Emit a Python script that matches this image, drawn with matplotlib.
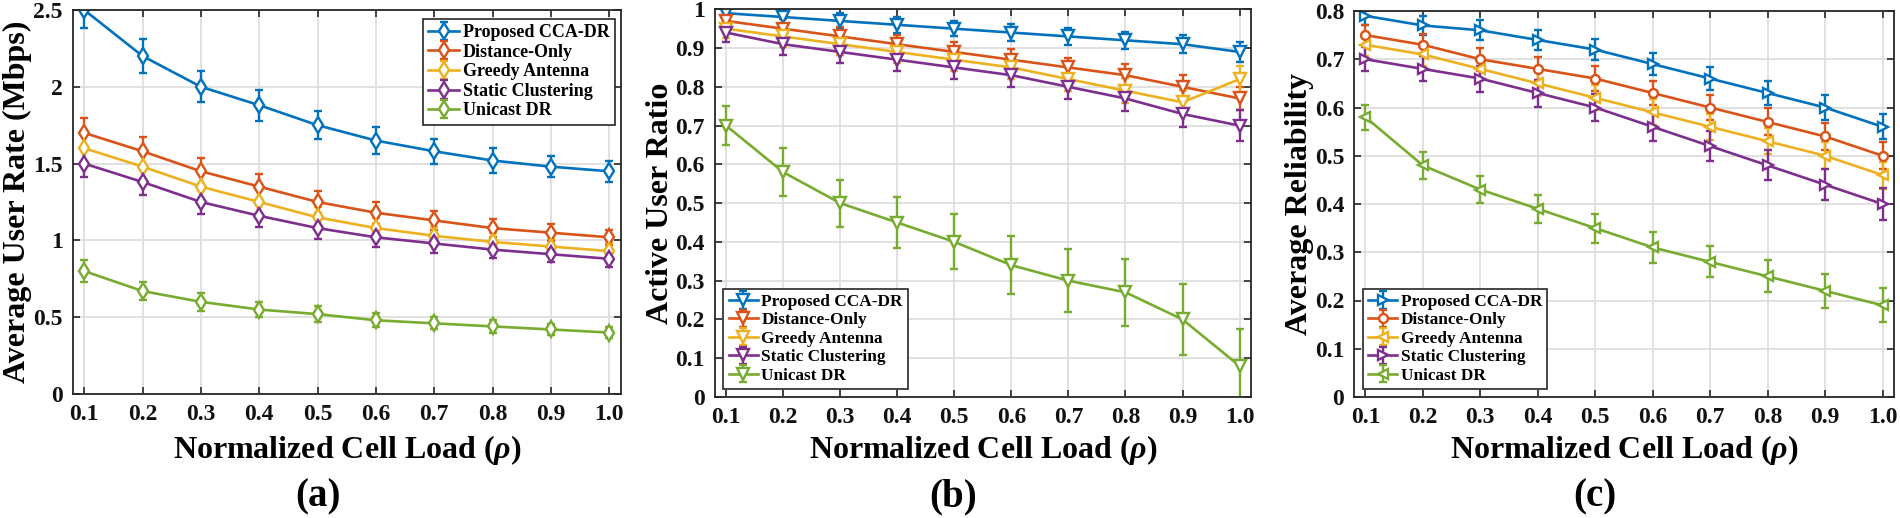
import numpy as np
import matplotlib
matplotlib.use("Agg")
import matplotlib.pyplot as plt

plt.rcParams['font.family'] = ['Liberation Serif', 'DejaVu Serif']
plt.rcParams['font.weight'] = 'bold'
plt.rcParams['mathtext.fontset'] = 'custom'
plt.rcParams['mathtext.rm'] = 'Liberation Serif:bold'
plt.rcParams['mathtext.it'] = 'Liberation Serif:italic:bold'

load = [0.1, 0.2, 0.3, 0.4, 0.5, 0.6, 0.7, 0.8, 0.9, 1.0]
xtick_labels = ["0.1", "0.2", "0.3", "0.4", "0.5", "0.6", "0.7", "0.8", "0.9", "1.0"]
methods = ["Proposed CCA-DR", "Distance-Only", "Greedy Antenna", "Static Clustering", "Unicast DR"]
colors = ["#0072BD", "#D95319", "#EDB120", "#7E2F8E", "#77AC30"]

# (a) Average user rate (Mbps)
rate_proposed = [2.50, 2.20, 2.00, 1.88, 1.75, 1.65, 1.58, 1.52, 1.48, 1.45]
rate_distance = [1.70, 1.58, 1.45, 1.35, 1.25, 1.18, 1.13, 1.08, 1.05, 1.02]
rate_greedy = [1.60, 1.48, 1.35, 1.25, 1.15, 1.08, 1.03, 0.99, 0.96, 0.93]
rate_static = [1.50, 1.38, 1.25, 1.16, 1.08, 1.02, 0.98, 0.94, 0.91, 0.88]
rate_unicast = [0.80, 0.67, 0.60, 0.55, 0.52, 0.48, 0.46, 0.44, 0.42, 0.40]
rate_err_proposed = [0.12, 0.11, 0.10, 0.10, 0.09, 0.09, 0.08, 0.08, 0.07, 0.07]
rate_err_distance = [0.10, 0.095, 0.085, 0.08, 0.07, 0.07, 0.06, 0.06, 0.055, 0.05]
rate_err_greedy = [0.095, 0.09, 0.08, 0.075, 0.07, 0.065, 0.06, 0.055, 0.05, 0.05]
rate_err_static = [0.09, 0.082, 0.078, 0.07, 0.07, 0.06, 0.06, 0.055, 0.05, 0.05]
rate_err_unicast = [0.07, 0.06, 0.06, 0.05, 0.05, 0.045, 0.04, 0.04, 0.035, 0.035]

# (b) Active user ratio
ratio_proposed = [0.99, 0.98, 0.97, 0.96, 0.95, 0.94, 0.93, 0.92, 0.91, 0.89]
ratio_distance = [0.97, 0.95, 0.93, 0.91, 0.89, 0.87, 0.85, 0.83, 0.80, 0.77]
ratio_greedy = [0.95, 0.93, 0.91, 0.89, 0.87, 0.85, 0.82, 0.79, 0.76, 0.82]
ratio_static = [0.94, 0.91, 0.89, 0.87, 0.85, 0.83, 0.80, 0.77, 0.73, 0.70]
ratio_unicast = [0.70, 0.58, 0.50, 0.45, 0.40, 0.34, 0.30, 0.27, 0.20, 0.08]
ratio_err_proposed = [0.02, 0.02, 0.02, 0.02, 0.02, 0.022, 0.022, 0.022, 0.024, 0.025]
ratio_err_distance = [0.022, 0.024, 0.025, 0.025, 0.026, 0.027, 0.025, 0.029, 0.03, 0.029]
ratio_err_greedy = [0.025, 0.026, 0.027, 0.028, 0.03, 0.03, 0.031, 0.032, 0.033, 0.035]
ratio_err_static = [0.025, 0.027, 0.028, 0.029, 0.03, 0.03, 0.031, 0.033, 0.034, 0.04]
ratio_err_unicast = [0.05, 0.062, 0.061, 0.065, 0.071, 0.074, 0.081, 0.086, 0.091, 0.096]

# (c) Average reliability
rel_proposed = [0.79, 0.77, 0.76, 0.74, 0.72, 0.69, 0.66, 0.63, 0.60, 0.56]
rel_distance = [0.75, 0.73, 0.70, 0.68, 0.66, 0.63, 0.60, 0.57, 0.54, 0.50]
rel_greedy = [0.73, 0.71, 0.68, 0.65, 0.62, 0.59, 0.56, 0.53, 0.50, 0.46]
rel_static = [0.70, 0.68, 0.66, 0.63, 0.60, 0.56, 0.52, 0.48, 0.44, 0.40]
rel_unicast = [0.58, 0.48, 0.43, 0.39, 0.35, 0.31, 0.28, 0.25, 0.22, 0.19]
rel_err_proposed = [0.02, 0.02, 0.021, 0.021, 0.022, 0.023, 0.024, 0.025, 0.026, 0.026]
rel_err_distance = [0.022, 0.023, 0.024, 0.024, 0.025, 0.025, 0.025, 0.028, 0.028, 0.028]
rel_err_greedy = [0.024, 0.025, 0.025, 0.026, 0.026, 0.027, 0.027, 0.027, 0.028, 0.028]
rel_err_static = [0.025, 0.026, 0.027, 0.028, 0.028, 0.03, 0.031, 0.031, 0.032, 0.034]
rel_err_unicast = [0.026, 0.028, 0.028, 0.029, 0.03, 0.032, 0.032, 0.033, 0.035, 0.035]

panels = [
    dict(vals=[rate_proposed, rate_distance, rate_greedy, rate_static, rate_unicast],
         errs=[rate_err_proposed, rate_err_distance, rate_err_greedy, rate_err_static, rate_err_unicast],
         markers=['d'] * 5, ms=8,
         ylabel="Average User Rate (Mbps)", ylim=(0, 2.5),
         yticks=[0, 0.5, 1, 1.5, 2, 2.5], yticklabels=["0", "0.5", "1", "1.5", "2", "2.5"],
         rect=[72.6, 10, 621, 394], tag="(a)", tagx=318, legfs=13,
         leg=dict(loc='upper right', bbox_to_anchor=(0.989, 0.977))),
    dict(vals=[ratio_proposed, ratio_distance, ratio_greedy, ratio_static, ratio_unicast],
         errs=[ratio_err_proposed, ratio_err_distance, ratio_err_greedy, ratio_err_static, ratio_err_unicast],
         markers=['v'] * 5, ms=8,
         ylabel="Active User Ratio", ylim=(0, 1),
         yticks=[0, 0.1, 0.2, 0.3, 0.4, 0.5, 0.6, 0.7, 0.8, 0.9, 1],
         yticklabels=["0", "0.1", "0.2", "0.3", "0.4", "0.5", "0.6", "0.7", "0.8", "0.9", "1"],
         rect=[714.7, 9.3, 1251, 397], tag="(b)", tagx=953, legfs=12.4,
         leg=dict(loc='lower left', bbox_to_anchor=(0.0164, 0.0206))),
    dict(vals=[rel_proposed, rel_distance, rel_greedy, rel_static, rel_unicast],
         errs=[rel_err_proposed, rel_err_distance, rel_err_greedy, rel_err_static, rel_err_unicast],
         markers=['>', 'o', '<', '>', '<'], ms=7.5,
         ylabel="Average Reliability", ylim=(0, 0.8),
         yticks=[0, 0.1, 0.2, 0.3, 0.4, 0.5, 0.6, 0.7, 0.8],
         yticklabels=["0", "0.1", "0.2", "0.3", "0.4", "0.5", "0.6", "0.7", "0.8"],
         rect=[1353.9, 11, 1894, 397], tag="(c)", tagx=1595, legfs=12.4,
         leg=dict(loc='lower left', bbox_to_anchor=(0.0163, 0.0207))),
]

W, H = 1900, 518
fig = plt.figure(figsize=(W / 100, H / 100), dpi=100)
spine_col = '#262626'

for p in panels:
    x0, y0, x1, y1 = p['rect']
    ax = fig.add_axes([x0 / W, 1 - y1 / H, (x1 - x0) / W, (y1 - y0) / H])
    for vals, errs, mk, col, name in zip(p['vals'], p['errs'], p['markers'], colors, methods):
        ms = p['ms'] * (0.85 if mk == 'o' else 1.0)
        ax.errorbar(load, vals, yerr=errs, color=col, marker=mk, ms=ms,
                    mfc='white', mec=col, mew=1.7, lw=1.9, elinewidth=1.7,
                    capsize=2.8, capthick=1.7, label=name, clip_on=True)
    ax.set_xlim(0.08, 1.02)
    ax.set_ylim(*p['ylim'])
    ax.set_xticks(load)
    ax.set_xticklabels(xtick_labels)
    ax.set_yticks(p['yticks'])
    ax.set_yticklabels(p['yticklabels'])
    ax.grid(True, color='#dcdcdc', lw=1.2)
    ax.set_axisbelow(True)
    for s in ax.spines.values():
        s.set_color(spine_col)
        s.set_linewidth(1.3)
    ax.tick_params(direction='in', length=5, width=1.2, color=spine_col,
                   top=True, right=True, labelsize=17, pad=7, labelcolor='#111111')
    for lab in ax.get_xticklabels() + ax.get_yticklabels():
        lab.set_fontweight('bold')
    ax.set_xlabel(r"Normalized Cell Load ($\rho$)", fontsize=23, fontweight='bold', va='center')
    ax.xaxis.set_label_coords(0.5, -(450 - y1) / (y1 - y0))
    ax.set_ylabel(p['ylabel'], fontsize=23, fontweight='bold', va='center')
    ax.yaxis.set_label_coords(-0.101, 0.5)
    leg = ax.legend(fontsize=p['legfs'], frameon=True, fancybox=False, framealpha=1,
                    edgecolor=spine_col, borderaxespad=0, handlelength=1.7,
                    handletextpad=0.2, borderpad=0.3, labelspacing=0.14,
                    **p['leg'])
    leg.get_frame().set_linewidth(1.2)
    for t in leg.get_texts():
        t.set_fontweight('bold')
    fig.text(p['tagx'] / W, 1 - 497 / H, p['tag'], fontsize=28, fontweight='bold',
             ha='center', va='center')

fig.savefig("out.png", dpi=100)
